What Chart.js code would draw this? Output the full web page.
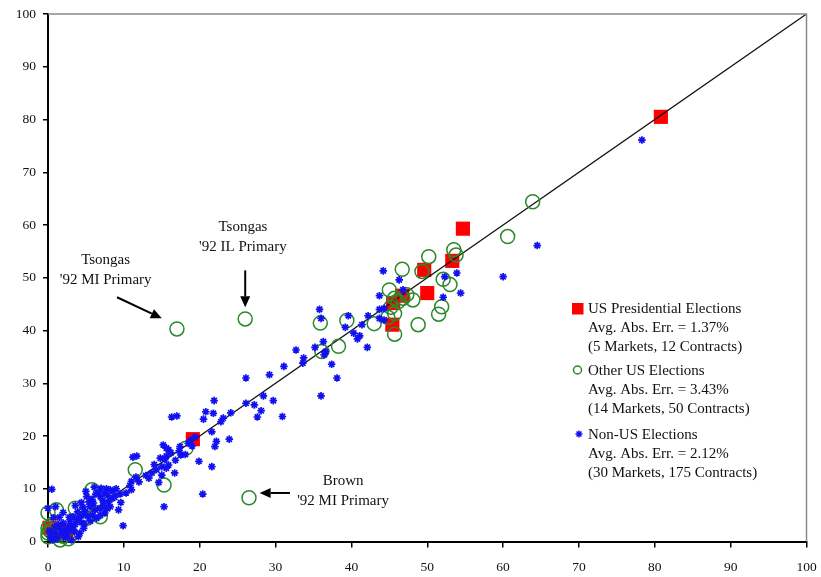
<!DOCTYPE html>
<html>
<head>
<meta charset="utf-8">
<script src="https://cdn.jsdelivr.net/npm/chart.js@4.4.1/dist/chart.umd.min.js"></script>
<style>
html,body{margin:0;padding:0;background:#fff;}
#wrap{width:821px;height:577px;position:relative;}
</style>
</head>
<body>
<div id="wrap"><canvas id="c"></canvas></div>
<script>
// ---- Data (market price vs. actual vote share, %) ----
const usPresidential = [
  [80.8,80.5],[54.7,59.3],[53.3,53.2],[49.6,51.5],[50.0,47.1],[45.5,45.2],
  [45.4,41.1],[46.7,46.6],[19.1,19.4],[0.2,2.6],[1.2,1.5],[2.4,1.9]
];
const otherUS = [
  [63.9,64.4],[60.6,57.8],[53.5,55.3],[53.8,54.3],[50.2,54.0],[49.3,51.2],
  [46.7,51.6],[52.1,49.7],[53.0,48.7],[45.0,47.7],[45.7,46.1],[46.8,46.1],
  [48.1,45.8],[45.7,43.2],[51.9,44.5],[51.5,43.1],[48.8,41.1],[45.7,39.3],
  [43.0,41.3],[39.4,41.9],[35.9,41.4],[38.3,37.0],[36.1,36.0],[17.0,40.3],
  [26.0,42.2],[26.5,8.3],[15.3,10.7],[11.5,13.6],[18.2,17.7],[5.8,9.8],
  [1.1,6.0],[0.0,5.4],[3.6,6.3],[6.9,4.7],[0.0,2.5],[0.0,1.6],
  [0.0,0.9],[1.6,0.3],[2.7,0.5],[5.1,4.4],[47.3,46.8],[46.2,45.5],
  [45.2,44.4],[0.5,3.2],[0.3,2.0],[1.0,1.2],[2.0,1.0],[4.5,5.0],
  [6.5,5.5],[44.8,42.5]
];
const nonUS = [
  [78.3,76.1],[64.5,56.1],[60.0,50.2],[53.9,50.9],[52.3,50.2],[54.4,47.1],
  [52.1,46.3],[44.2,51.3],[46.3,49.6],[46.8,47.7],[44.3,44.2],[44.3,42.0],
  [43.7,46.6],[43.7,44.0],[43.7,42.3],[35.8,44.0],[36.0,42.3],[39.6,42.8],
  [42.2,42.8],[39.2,40.6],[41.4,41.1],[40.3,39.5],[41.1,39.0],[40.8,38.4],
  [42.1,36.8],[36.3,37.9],[35.2,36.8],[32.7,36.3],[36.6,36.0],[33.7,34.8],
  [33.6,33.8],[36.4,35.4],[37.4,33.6],[38.1,31.0],[31.1,33.2],[36.0,27.6],
  [30.9,23.7],
  [26.1,31.0],[29.2,31.6],[28.4,27.6],[29.7,26.7],[26.1,26.2],[27.2,25.9],
  [28.1,24.8],[27.6,23.6],[24.1,24.4],[23.1,23.4],[22.8,22.7],[21.9,26.7],
  [20.8,24.6],[21.8,24.3],[20.5,23.2],[21.6,20.8],[23.9,19.4],[22.2,19.0],
  [22.0,18.0],[19.9,15.2],[21.6,14.2],[20.4,9.0],[16.3,23.6],[17.0,23.8],
  [15.2,18.3],[15.9,17.4],[17.4,18.0],[17.5,16.4],[15.6,16.2],[15.4,15.5],
  [15.9,14.5],[15.6,13.9],[15.0,14.2],[16.7,13.0],[15.0,12.6],[13.7,13.0],
  [11.2,16.0],[11.7,16.2],[18.5,18.6],[15.3,6.6],[11.0,11.4],[11.0,9.8],
  [19.4,19.8],[18.8,19.2],
  [0.5,9.9],[9.3,6.0],[9.9,3.0],[8.2,9.8],[7.5,9.2],[6.9,8.5],
  [7.2,7.8],[6.0,7.3],[5.1,8.5],[5.5,6.6],[4.9,5.7],[4.2,4.7],
  [3.8,4.1],[2.9,3.8],[3.3,2.8],[2.0,3.5],[1.6,2.5],[2.2,1.9],
  [0.9,1.6],[0.3,0.9],[0.0,6.3],[4.2,1.6],[4.0,0.9],[4.7,2.5],
  [6.4,4.4],[7.5,5.4],[8.2,6.6],[6.2,6.0],[4.7,5.1],[3.3,4.7],
  [2.9,2.8],[2.5,1.3],[1.4,3.2],
  [5.8,8.0],[6.6,9.3],[7.9,8.7],[8.6,9.5],[9.0,10.0],[7.0,10.1],
  [6.3,9.0],[5.4,7.5],[4.6,6.5],[5.2,4.8],[5.9,5.0],[6.8,6.2],
  [7.3,6.8],[8.0,7.5],[8.8,8.4],[9.5,9.0],[4.4,3.6],[3.6,3.3],
  [3.0,2.2],[2.6,2.7],[1.8,1.4],[1.2,0.6],[0.6,0.3],[0.2,2.0],
  [0.7,4.5],[1.0,6.6],[3.9,5.6],[4.4,7.4],[5.0,9.5],[6.1,10.3],
  [7.7,10.0],[8.4,8.1],[3.5,1.9],[2.3,0.7],[3.1,0.3],[4.8,3.3],
  [5.6,3.9],[6.9,5.0],[7.8,6.2],[10.3,9.2],[12.0,11.3],[12.9,12.5],
  [14.0,14.6],[14.8,15.8],[13.3,12.0],[14.3,13.6],[16.2,16.8],[16.8,15.4],
  [17.3,17.2],[18.1,16.5],[15.6,17.7],[14.6,11.2],[11.6,12.2],[10.8,10.6],
  [9.6,7.4],[2.0,5.5],[1.5,4.6],[0.9,2.8],[2.8,4.6],[3.6,6.8],
  [19.0,18.1]
];
const diagonal = [[0,0],[100,100]];
const axisMin = 0, axisMax = 100, axisStep = 10;

const legendLines = [
  ["US Presidential Elections","Avg. Abs. Err. = 1.37%","(5 Markets, 12 Contracts)"],
  ["Other US Elections","Avg. Abs. Err. = 3.43%","(14 Markets, 50 Contracts)"],
  ["Non-US Elections","Avg. Abs. Err. = 2.12%","(30 Markets, 175 Contracts)"]
];
const annotations = [
  {lines:["Tsongas","'92 MI Primary"], at:[7.6,53.4]},
  {lines:["Tsongas","'92 IL Primary"], at:[25.7,59.7]},
  {lines:["Brown","'92 MI Primary"], at:[38.9,11.5]}
];

const toXY = a => a.map(p => ({x:p[0], y:p[1]}));
const FONT = "'Liberation Serif','Times New Roman',serif";
const RED = '#ff0000', GREEN = '#2a8a2a', BLUE = '#1010f0';

const overlay = {
  id:'overlay',
  afterDatasetsDraw(chart){
    const ctx = chart.ctx, xs = chart.scales.x, ys = chart.scales.y, a = chart.chartArea;
    ctx.save();
    // top and right frame (gray)
    ctx.strokeStyle = '#8a8a8a'; ctx.lineWidth = 1.5;
    ctx.beginPath(); ctx.moveTo(a.left, a.top); ctx.lineTo(a.right, a.top); ctx.lineTo(a.right, a.bottom); ctx.stroke();

    ctx.fillStyle = '#111'; ctx.font = '15px ' + FONT; ctx.textAlign = 'center'; ctx.textBaseline = 'middle';
    annotations.forEach(an => {
      const cx = xs.getPixelForValue(an.at[0]), cy = ys.getPixelForValue(an.at[1]);
      an.lines.forEach((t,i) => ctx.fillText(t, cx, cy + i*20.5));
    });

    // arrows
    function arrow(x1,y1,x2,y2){
      const ang = Math.atan2(y2-y1, x2-x1), L = 11, W = 5;
      const bx = x2 - L*Math.cos(ang), by = y2 - L*Math.sin(ang);
      ctx.strokeStyle = '#000'; ctx.lineWidth = 2;
      ctx.beginPath(); ctx.moveTo(x1,y1); ctx.lineTo(bx,by); ctx.stroke();
      ctx.fillStyle = '#000';
      ctx.beginPath();
      ctx.moveTo(x2,y2);
      ctx.lineTo(bx - W*Math.sin(ang), by + W*Math.cos(ang));
      ctx.lineTo(bx + W*Math.sin(ang), by - W*Math.cos(ang));
      ctx.closePath(); ctx.fill();
    }
    const P = (x,y) => [xs.getPixelForValue(x), ys.getPixelForValue(y)];
    let s,e;
    s=P(9.1,46.3); e=P(15.0,42.3); arrow(s[0],s[1],e[0],e[1]);
    s=P(26.0,51.4); e=P(26.0,44.4); arrow(s[0],s[1],e[0],e[1]);
    s=P(31.9,9.2); e=P(27.9,9.2); arrow(s[0],s[1],e[0],e[1]);

    // legend
    const lx = 588, ly = [309, 371.5, 435], mx = 577.5;
    ctx.textAlign = 'left'; ctx.fillStyle = '#111'; ctx.font = '15px ' + FONT;
    legendLines.forEach((grp,gi) => {
      grp.forEach((t,i) => ctx.fillText(t, lx, ly[gi] + i*19));
    });
    ctx.fillStyle = RED; ctx.fillRect(mx-5.5, ly[0]-6, 11.5, 11.5);
    ctx.strokeStyle = GREEN; ctx.lineWidth = 1.5;
    ctx.beginPath(); ctx.arc(mx, ly[1]-1.5, 4, 0, Math.PI*2); ctx.stroke();
    ctx.strokeStyle = BLUE;
    Chart.helpers.drawPoint(ctx, {pointStyle:'star', radius:3.5, borderWidth:1.8}, mx+1.5, ly[2]-1);
    ctx.restore();
  }
};

const chart = new Chart(document.getElementById('c'), {
  type:'scatter',
  data:{datasets:[
    {label:'Non-US Elections', data:toXY(nonUS), pointStyle:'star', pointRadius:3.8, pointBorderWidth:1.7,
     borderColor:BLUE, backgroundColor:BLUE, order:1, clip:false},
    {label:'Other US Elections', data:toXY(otherUS), pointStyle:'circle', pointRadius:7, pointBorderWidth:1.5,
     borderColor:GREEN, backgroundColor:'rgba(0,0,0,0)', order:2, clip:false},
    {label:'diag', type:'line', data:toXY(diagonal), borderColor:'#111', borderWidth:1.3, pointRadius:0, order:3},
    {label:'US Presidential Elections', data:toXY(usPresidential), pointStyle:'rect', pointRadius:10, pointBorderWidth:0,
     borderColor:RED, backgroundColor:RED, order:4, clip:false}
  ]},
  options:{
    responsive:true, maintainAspectRatio:false, animation:false,
    events:[],
    layout:{padding:{top:14, right:14.5, left:0, bottom:0}},
    plugins:{legend:{display:false}, tooltip:{enabled:false}},
    scales:{
      x:{type:'linear', min:axisMin, max:axisMax,
         ticks:{stepSize:axisStep, color:'#111', font:{family:FONT, size:13.5}, padding:12, maxRotation:0},
         grid:{drawOnChartArea:false, drawTicks:true, tickLength:6, color:'#000', lineWidth:1.5},
         border:{display:true, color:'#000', width:2},
         afterFit(s){ s.height = 35.5; s.paddingLeft = 0; s.paddingRight = 0; }},
      y:{type:'linear', min:axisMin, max:axisMax,
         ticks:{stepSize:axisStep, color:'#111', font:{family:FONT, size:13.5}, padding:7},
         grid:{drawOnChartArea:false, drawTicks:true, tickLength:5, color:'#000', lineWidth:1.5},
         border:{display:true, color:'#000', width:2},
         afterFit(s){ s.width = 48; s.paddingTop = 0; s.paddingBottom = 0; }}
    }
  },
  plugins:[overlay]
});
</script>
</body>
</html>
